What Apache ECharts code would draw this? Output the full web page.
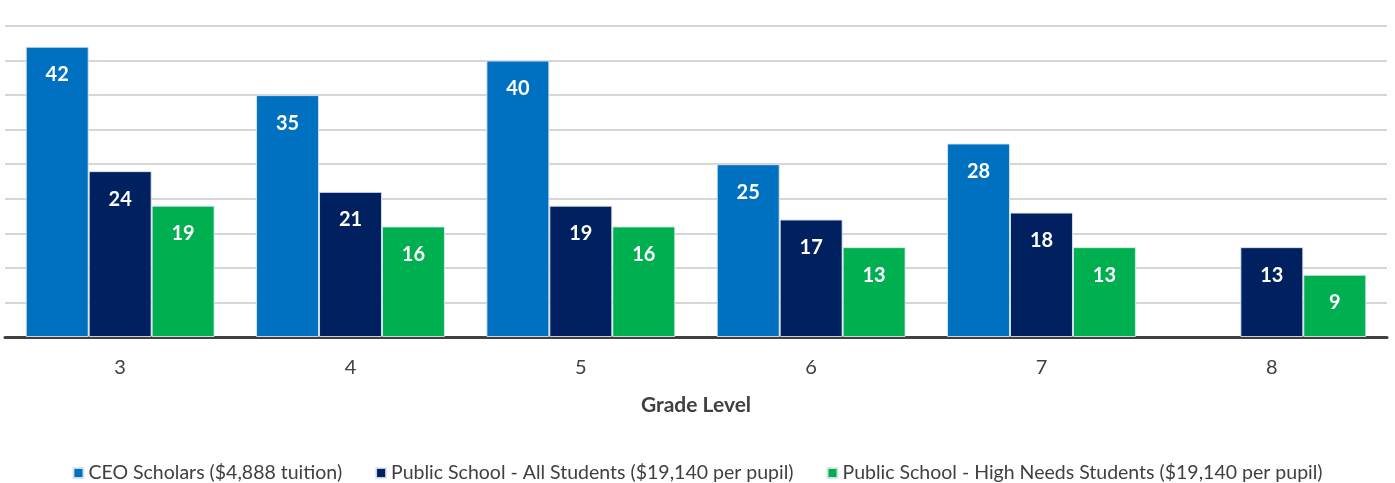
<!DOCTYPE html>
<html>
<head>
<meta charset="utf-8">
<script src="https://cdn.jsdelivr.net/npm/echarts@6/dist/echarts.min.js"></script>
<style>html,body{margin:0;padding:0;background:#fff}#c{width:1395px;height:483px}</style>
</head>
<body>
<div id="c"></div>
<script>
const categories = ['3', '4', '5', '6', '7', '8'];
const seriesNames = [
  'CEO Scholars ($4,888 tuition)',
  'Public School - All Students ($19,140 per pupil)',
  'Public School - High Needs Students ($19,140 per pupil)'
];
const ceoScholars = [42, 35, 40, 25, 28, null];
const publicAll = [24, 21, 19, 17, 18, 13];
const publicHighNeeds = [19, 16, 16, 13, 13, 9];
const colors = ['#0070C0', '#002060', '#00B050'];
const FONT = 'Lato';

const chart = echarts.init(document.getElementById('c'));
const mk = (name, data, color) => ({
  name, type: 'bar', data,
  barGap: '0%', barCategoryGap: '18%',
  itemStyle: { color, borderColor: 'rgba(220,230,240,0.9)', borderWidth: 1 },
  label: {
    show: true, position: 'insideTop', distance: 18,
    color: '#fff', fontWeight: 'bold', fontSize: 20, fontFamily: FONT
  }
});
chart.setOption({
  animation: false,
  textStyle: { fontFamily: FONT },
  grid: { left: 5, right: 8, top: 26, bottom: 146, containLabel: false },
  legend: {
    top: 458, left: 'center', itemWidth: 10, itemHeight: 10, itemGap: 33,
    icon: 'rect',
    textStyle: { fontSize: 19.5, color: '#404040', fontFamily: FONT }
  },
  xAxis: {
    type: 'category', data: categories,
    name: 'Grade Level', nameLocation: 'middle', nameGap: 58,
    nameTextStyle: { fontWeight: 'bold', fontSize: 21, color: '#404040', fontFamily: FONT },
    axisLine: { lineStyle: { color: '#404040', width: 3 } },
    axisTick: { show: false },
    axisLabel: { margin: 21, fontSize: 20, color: '#404040', fontFamily: FONT }
  },
  yAxis: {
    type: 'value', min: 0, max: 45, interval: 5,
    axisLabel: { show: false }, axisLine: { show: false }, axisTick: { show: false },
    splitLine: { lineStyle: { color: '#c8c8c8', width: 1.5 } }
  },
  series: [
    mk(seriesNames[0], ceoScholars, colors[0]),
    mk(seriesNames[1], publicAll, colors[1]),
    mk(seriesNames[2], publicHighNeeds, colors[2])
  ]
});
</script>
</body>
</html>
